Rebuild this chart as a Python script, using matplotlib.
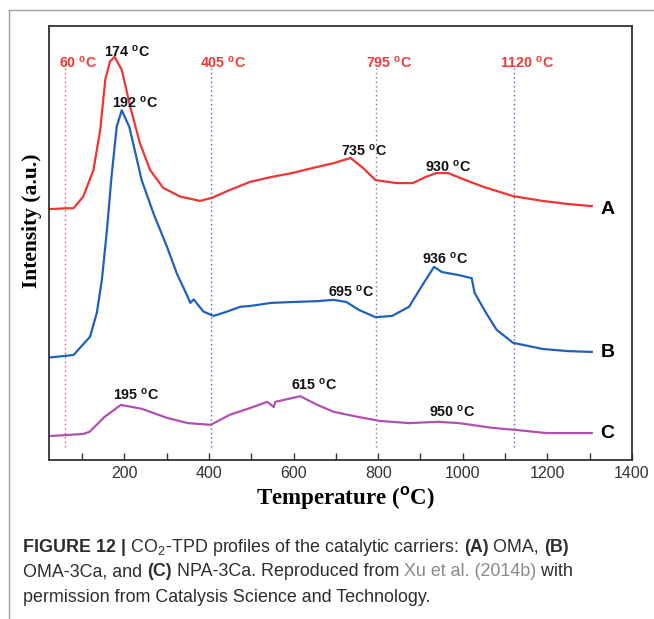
import matplotlib
matplotlib.use('Agg')
import matplotlib.pyplot as plt
from matplotlib.lines import Line2D
from matplotlib.ticker import FixedLocator

plt.rcParams['font.family'] = ['Liberation Sans', 'DejaVu Sans']
plt.rcParams['mathtext.fontset'] = 'custom'
plt.rcParams['mathtext.rm'] = 'Liberation Sans'
plt.rcParams['mathtext.bf'] = 'Liberation Sans:bold'

# (A) OMA
temp_a = [22, 64, 80, 103, 127, 143, 155, 166, 177, 194, 214, 237, 261, 292, 332, 379,
          407, 449, 498, 547, 596, 646, 695, 735, 764, 794, 843, 882, 912, 937, 966,
          1001, 1050, 1119, 1188, 1247, 1305]
int_a = [57.8, 58.0, 58.0, 60.7, 66.8, 76.0, 87.6, 91.8, 92.9, 89.9, 81.4, 73.0, 66.8,
         62.7, 60.7, 59.7, 60.4, 62.2, 64.1, 65.2, 66.1, 67.3, 68.4, 69.6, 67.3, 64.5,
         63.8, 63.8, 65.2, 66.1, 66.1, 64.7, 62.9, 60.8, 59.7, 59.0, 58.5]

# (B) OMA-3Ca
temp_b = [22, 80, 119, 135, 147, 159, 169, 182, 194, 212, 241, 269, 301, 324, 348, 356,
          364, 387, 411, 443, 474, 498, 547, 596, 656, 695, 725, 754, 794, 833, 873,
          902, 932, 951, 991, 1021, 1028, 1055, 1080, 1119, 1188, 1247, 1305]
int_b = [23.6, 24.2, 28.4, 33.9, 41.5, 53.0, 64.5, 76.8, 80.6, 76.7, 64.5, 56.8, 49.1,
         43.0, 38.0, 36.2, 37.0, 34.2, 33.2, 34.2, 35.3, 35.5, 36.2, 36.4, 36.6, 36.9,
         36.4, 34.6, 32.9, 33.2, 35.3, 39.9, 44.5, 43.3, 42.6, 41.9, 38.5, 33.9, 30.0,
         27.0, 25.6, 25.1, 24.9]

# (C) NPA-3Ca
temp_c = [22, 103, 118, 153, 192, 241, 301, 350, 404, 449, 498, 538, 553, 557, 616, 656,
          695, 754, 804, 873, 942, 991, 1070, 1129, 1198, 1305]
int_c = [5.5, 6.0, 6.5, 9.9, 12.7, 11.8, 9.7, 8.5, 8.1, 10.4, 12.0, 13.4, 12.2, 13.4,
         14.7, 12.7, 11.1, 9.9, 9.0, 8.5, 8.8, 8.5, 7.4, 6.9, 6.2, 6.2]

# dotted marker lines
mark_temps = [60, 405, 795, 1120]
mark_colors = ['#f04848', '#3a66c8', '#b050c0', '#9a40b0']

# peak annotations: text, x, y, colour
peak_labels = [
    ('60', 91, 91.5, '#f03a3a'), ('405', 433, 91.5, '#f03a3a'),
    ('795', 825, 91.5, '#f03a3a'), ('1120', 1151, 91.5, '#f03a3a'),
    ('174', 207, 94.2, '#111111'), ('192', 226, 82.3, '#111111'),
    ('735', 768, 71.4, '#111111'), ('930', 965, 67.5, '#111111'),
    ('936', 959, 46.5, '#111111'), ('695', 736, 38.7, '#111111'),
    ('195', 227, 15.0, '#111111'), ('615', 648, 17.3, '#111111'),
    ('950', 976, 11.1, '#111111'),
]
curve_names = ['A', 'B', 'C']
curve_name_y = [57.8, 24.7, 6.2]

W, H = 654, 619
fig = plt.figure(figsize=(W / 100, H / 100), dpi=100)
ax = fig.add_axes([49 / W, 1 - 460 / H, 583 / W, 434 / H])

for t, c in zip(mark_temps, mark_colors):
    ax.vlines(t, 3.0, 90.3, colors=c, linestyles=(0, (1, 2.2)), lw=1.0)

ax.plot(temp_a, int_a, color='#f03434', lw=1.6)
ax.plot(temp_b, int_b, color='#2060c0', lw=1.6)
ax.plot(temp_c, int_c, color='#b050b0', lw=1.6)

for s, x, y, c in peak_labels:
    ax.text(x, y, s + r' $^{\mathbf{o}}$C', color=c, fontsize=10.3, weight='bold',
            ha='center', va='center')
for s, y in zip(curve_names, curve_name_y):
    ax.text(1342, y, s, fontsize=14, weight='bold', ha='center', va='center')

ax.set_xlim(22, 1400)
ax.set_ylim(0, 100)
ax.set_xticks(range(200, 1401, 200))
ax.xaxis.set_minor_locator(FixedLocator(range(100, 1301, 200)))
ax.tick_params(axis='x', which='both', direction='in', length=5, width=1,
               labelsize=11.5, labelcolor='#333333', pad=4, color='#333333')
ax.set_yticks([])
for sp in ax.spines.values():
    sp.set_linewidth(1.3)
    sp.set_color('#333333')

fig.text(345 / W, 1 - 498 / H, r'Temperature ($^{\mathbf{o}}$C)', family='Liberation Serif',
         weight='bold', fontsize=16.5, ha='center', va='center')
fig.text(32 / W, 1 - 221 / H, 'Intensity (a.u.)', family='Liberation Serif', weight='bold',
         fontsize=15.5, rotation=90, ha='center', va='center')

# panel frame
fig.add_artist(Line2D([9 / W, 9 / W], [0, 1 - 10 / H], transform=fig.transFigure,
                      color='#a0a0a0', lw=1))
fig.add_artist(Line2D([9 / W, 1], [1 - 10 / H, 1 - 10 / H], transform=fig.transFigure,
                      color='#a0a0a0', lw=1))

# caption
renderer = fig.canvas.get_renderer()
cap_size = 12.9
dark = '#2e2e2e'
link = '#8a8a8a'
caption = [
    [('FIGURE 12 |', 'bold', dark), (' CO$_2$-TPD profiles of the catalytic carriers: ', 'normal', dark),
     ('(A)', 'bold', dark), (' OMA, ', 'normal', dark), ('(B)', 'bold', dark)],
    [('OMA-3Ca, and ', 'normal', dark), ('(C)', 'bold', dark),
     (' NPA-3Ca. Reproduced from ', 'normal', dark), ('Xu et al. (2014b)', 'normal', link),
     (' with', 'normal', dark)],
    [('permission from Catalysis Science and Technology.', 'normal', dark)],
]


def piece_width(s, weight):
    t = fig.text(0, 0, s + '|', fontsize=cap_size, weight=weight)
    w1 = t.get_window_extent(renderer).width
    t.set_text('|')
    w2 = t.get_window_extent(renderer).width
    t.remove()
    return w1 - w2


for row, y_px in zip(caption, [547, 572, 597]):
    x_px = 23
    for s, weight, c in row:
        fig.text(x_px / W, 1 - y_px / H, s, fontsize=cap_size, weight=weight, color=c,
                 ha='left', va='center')
        x_px += piece_width(s, weight)

fig.savefig('out.png', dpi=100)
